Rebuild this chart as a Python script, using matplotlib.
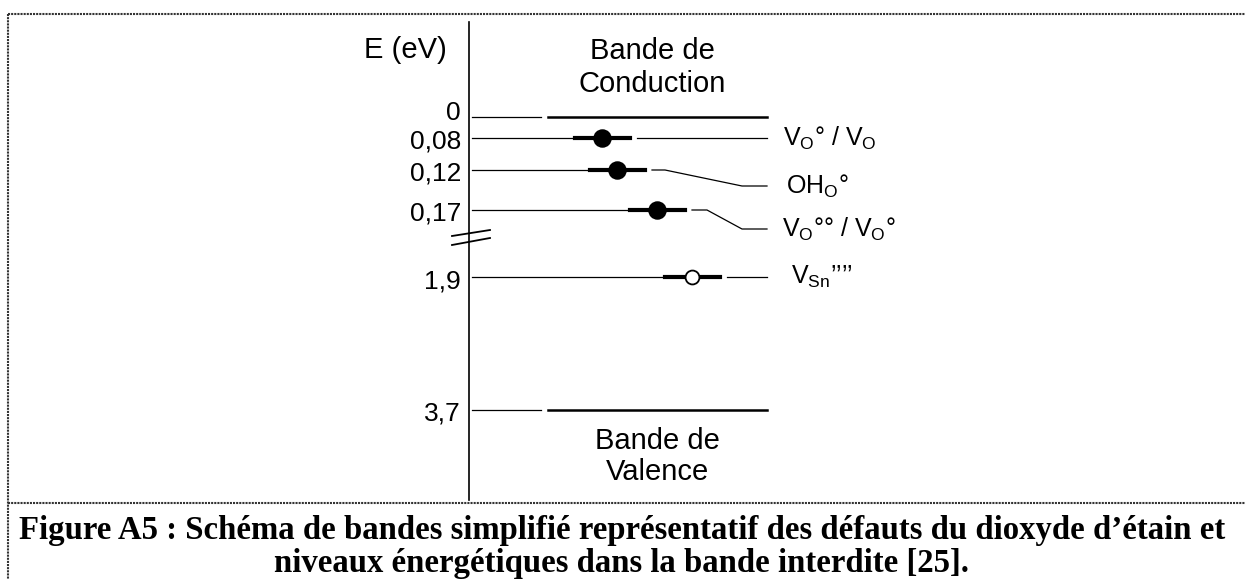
import matplotlib
matplotlib.use('Agg')
import matplotlib.pyplot as plt

plt.rcParams['font.family'] = ['Liberation Sans', 'DejaVu Sans']
plt.rcParams['mathtext.fontset'] = 'custom'
plt.rcParams['mathtext.rm'] = 'Liberation Sans'
plt.rcParams['mathtext.it'] = 'Liberation Sans'

# niveaux d'energie (eV) sous la bande de conduction
energies = ['0', '0,08', '0,12', '0,17', '1,9', '3,7']
# position schematique de chaque niveau (le schema n'est pas a l'echelle)
rows = [117, 138, 170, 210, 277, 410]

# defauts : libelle, niveau, position du point, point plein ou vide
defauts = ['V$_\\mathrm{O}$° / V$_\\mathrm{O}$',
           'OH$_\\mathrm{O}$°',
           'V$_\\mathrm{O}$°° / V$_\\mathrm{O}$°',
           'V$_\\mathrm{Sn}$’’’’']
defaut_niveau = [1, 2, 3, 4]
defaut_x = [602, 617, 657, 692]
defaut_plein = [True, True, True, False]
defaut_chute = [0, 16, 19, 0]          # descente du trait vers le libelle
defaut_coude = [None, 665, 707, None]  # debut de la pente
defaut_dx = [16, 19, 15, 24]           # retrait du libelle

legende = "Figure A5 : Schéma de bandes simplifié représentatif des défauts du dioxyde d’étain et\nniveaux énergétiques dans la bande interdite [25]."

W, H = 1245, 579
fig = plt.figure(figsize=(W / 100, H / 100), dpi=100)
ax = fig.add_axes([0, 0, 1, 1])
ax.set_xlim(0, W)
ax.set_ylim(H, 0)
ax.axis('off')

x0, x1 = 472, 767
fs = 19
fs_band = 21

# cadre de la figure
cadre = dict(color='#333333', lw=1.5, ls=(0, (1, 0.5)))
ax.plot([8, W], [14, 14], **cadre)
ax.plot([8, 8], [14, H], **cadre)
ax.plot([8, W], [503, 503], **cadre)

# axe des energies
ax.plot([469, 469], [22, 500], color='black', lw=1.2)
ax.text(447, 50, 'E (eV)', ha='right', va='center', fontsize=fs_band)
for lab, y in zip(energies, rows):
    dy = -4 if lab == '0' else 4
    ax.text(461, y + dy, lab, ha='right', va='center', fontsize=fs)

# coupure de l'axe
ax.plot([452, 490], [236, 230], color='black', lw=1.3)
ax.plot([452, 490], [245, 238], color='black', lw=1.3)

# bandes de conduction et de valence
for y in (rows[0], rows[-1]):
    ax.plot([x0, 541], [y, y], color='black', lw=0.9)
    ax.plot([548, x1], [y, y], color='black', lw=1.8)

ax.text(652, 51, 'Bande de', ha='center', va='center', fontsize=fs_band)
ax.text(652, 84, 'Conduction', ha='center', va='center', fontsize=fs_band)
ax.text(657, 441, 'Bande de', ha='center', va='center', fontsize=fs_band)
ax.text(657, 472, 'Valence', ha='center', va='center', fontsize=fs_band)

# niveaux des defauts
for lab, i, xd, plein, chute, coude, dx in zip(defauts, defaut_niveau, defaut_x,
                                               defaut_plein, defaut_chute,
                                               defaut_coude, defaut_dx):
    y = rows[i]
    ax.plot([x0, xd - 30], [y, y], color='black', lw=0.9)
    ax.plot([xd - 27, xd + 28], [y, y], color='black', lw=3.0)
    ax.plot([xd], [y], 'o', ms=12 if plein else 10,
            mfc='black' if plein else 'white', mec='black', mew=1.3, zorder=3)
    if coude is None:
        ax.plot([xd + 35, x1], [y, y], color='black', lw=0.9)
        ye = y
    else:
        ye = y + chute
        ax.plot([xd + 35, coude, x1 - 25, x1], [y, y, ye, ye], color='black', lw=0.9)
    ax.text(x1 + dx, ye, lab, ha='left', va='center', fontsize=fs - 1)

# legende de la figure
ax.text(622, 547, legende, ha='center', va='center', fontsize=23.6,
        family=['Liberation Serif', 'DejaVu Serif'], weight='bold', linespacing=1.12)

fig.savefig('out.png', dpi=100)
